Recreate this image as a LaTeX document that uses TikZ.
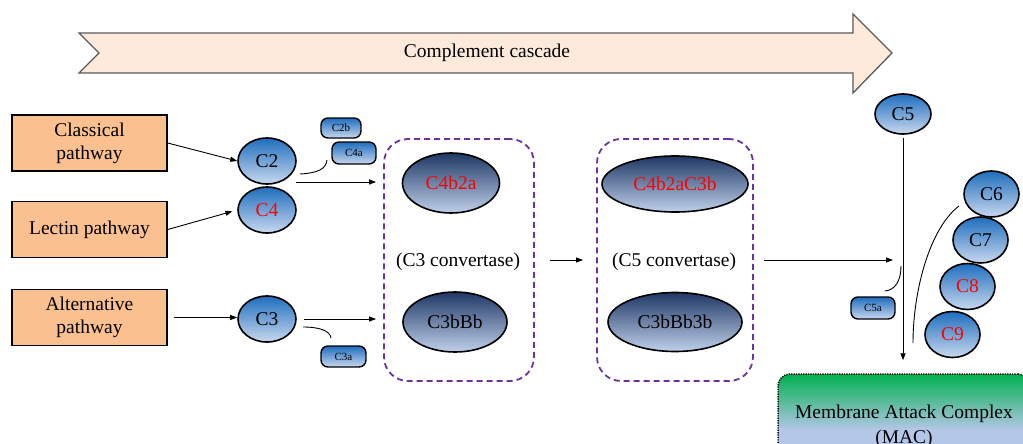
\documentclass[tikz,border=0pt]{standalone}
\usepackage{fontspec}
\setmainfont{Liberation Serif}
\newfontfamily\figserif{Liberation Serif}
\usetikzlibrary{arrows.meta,shapes.geometric}
\definecolor{peach}{HTML}{FDEADA}
\definecolor{peachline}{HTML}{595959}
\definecolor{boxorange}{HTML}{FAC090}
\definecolor{ctop}{HTML}{1F6EBE}
\definecolor{cbot}{HTML}{C8D8EE}
\definecolor{dtop}{HTML}{1F3864}
\definecolor{dbot}{HTML}{BFD0EA}
\definecolor{conv}{HTML}{7030A0}
\definecolor{macgreen}{HTML}{00B050}
\definecolor{macblue}{HTML}{B4C7E7}
\definecolor{redtxt}{HTML}{FF0000}
\begin{document}
\begin{tikzpicture}[x=1pt,y=-1pt,
  big/.style={font=\figserif\fontsize{19.5}{23}\selectfont},
  small/.style={font=\figserif\fontsize{11}{13}\selectfont},
  pathbox/.style={big,draw,line width=1.5pt,fill=boxorange,minimum width=155pt,
    minimum height=56pt,align=center,inner sep=0pt},
  comp/.style={big,ellipse,draw,line width=1.6pt,inner sep=0pt,
    top color=ctop,bottom color=cbot},
  dcomp/.style={big,ellipse,draw,line width=1.6pt,inner sep=0pt,
    top color=dtop,bottom color=dbot},
  chip/.style={small,draw,line width=1.4pt,rounded corners=7pt,inner sep=0pt,
    top color=ctop,bottom color=cbot},
  convbox/.style={draw=conv,line width=1.8pt,dash pattern=on 6pt off 4pt,
    rounded corners=24pt,inner sep=0pt},
  arr/.style={-{Triangle[length=7pt,width=5pt]},line width=0.9pt},
  thin/.style={line width=0.9pt}]
\useasboundingbox (0,0) rectangle (1023,444);
\clip (0,0) rectangle (1023,444);

% cascade banner
\draw[fill=peach,draw=peachline,line width=1.3pt,line join=miter]
  (79,33) -- (853,33) -- (853,14) -- (892,53) -- (853,93) -- (853,73)
  -- (79,73) -- (99,53) -- cycle;
\node[big] (cascade) at (487,53) {Complement cascade};

% activation pathways
\node[pathbox] (classical) at (89.5,143) {Classical\\pathway};
\node[pathbox] (lectin) at (89.5,229.5) {Lectin pathway};
\node[pathbox] (alt) at (89.5,317.5) {Alternative\\pathway};

% early components
\node[comp,minimum width=58pt,minimum height=46pt] (c2) at (267,161) {C2};
\node[comp,minimum width=58pt,minimum height=46pt,text=redtxt] (c4) at (267,210) {C4};
\node[comp,minimum width=58pt,minimum height=46pt] (c3) at (267,319) {C3};

\node[chip,minimum width=40pt,minimum height=20pt] (c2b) at (341,128) {C2b};
\node[chip,minimum width=44pt,minimum height=22pt] (c4a) at (354,153) {C4a};
\node[chip,minimum width=45pt,minimum height=21pt] (c3a) at (343.5,356.5) {C3a};

% convertases
\node[convbox,minimum width=150pt,minimum height=242pt] (box1) at (459,260) {};
\node[convbox,minimum width=156pt,minimum height=242pt] (box2) at (675,260) {};
\node[dcomp,minimum width=97pt,minimum height=60pt,text=redtxt] (c4b2a) at (451,183) {C4b2a};
\node[dcomp,minimum width=104pt,minimum height=60pt] (c3bbb) at (455,322) {C3bBb};
\node[dcomp,minimum width=146pt,minimum height=56pt,text=redtxt] (c4b2ac3b) at (675,184) {C4b2aC3b};
\node[dcomp,minimum width=134pt,minimum height=59pt] (c3bbb3b) at (675,322) {C3bBb3b};
\node[big] (lab3) at (458,262) {(C3 convertase)};
\node[big] (lab5) at (674,262) {(C5 convertase)};

% terminal components
\node[comp,minimum width=56pt,minimum height=40pt] (c5) at (903,114) {C5};
\node[chip,minimum width=44pt,minimum height=22pt] (c5a) at (873,308) {C5a};
\node[comp,minimum width=55pt,minimum height=46pt] (c6) at (991.5,194) {C6};
\node[comp,minimum width=55pt,minimum height=46pt] (c7) at (980.5,240) {C7};
\node[comp,minimum width=55pt,minimum height=46pt,text=redtxt] (c8) at (967.5,286.5) {C8};
\node[comp,minimum width=55pt,minimum height=46pt,text=redtxt] (c9) at (952.5,334.5) {C9};

% membrane attack complex (runs past the lower and right edges)
\node[draw,line width=1.5pt,dash pattern=on 1.2pt off 1.2pt,rounded corners=12pt,
  minimum width=252pt,minimum height=112pt,inner sep=0pt,
  top color=macgreen,bottom color=macblue,middle color=macblue] (mac) at (904,430) {};
\node[font=\figserif\fontsize{19.5}{25}\selectfont,align=center,anchor=base]
  (mactext) at (904,443) {Membrane Attack Complex\\(MAC)};

% connectors
\draw[arr] (classical.east) -- (c2.west);
\draw[arr,shorten >=5pt] (lectin.east) -- (c4.west);
\draw[arr,shorten <=6pt] (alt.east) -- (alt.east -| c3.west);

\coordinate (jn) at (296,182);
\draw[arr,shorten >=7pt] (jn) -- (jn -| box1.west);
\draw[arr,shorten <=7pt,shorten >=7pt] (c3.east) -- (c3.east -| box1.west);

\coordinate (c2cut) at (300,174);
\coordinate (c2end) at (327,160);
\draw[thin] (c2cut) .. controls (318,173) and (326,169) .. (c2end);
\coordinate (c3cut) at (303,327);
\coordinate (c3end) at (331,338);
\draw[thin] (c3cut) .. controls (320,327) and (330,331) .. (c3end);

\draw[arr,shorten <=15pt,shorten >=13pt] (box1.east) -- (box2.west);
\coordinate (meet) at (c5 |- box2.east);
\draw[arr,shorten <=10pt,shorten >=10pt] (box2.east) -- (meet);
\draw[arr,shorten <=3pt,shorten >=13pt] (c5.south) -- (c5 |- mac.north);

\coordinate (c5cut) at (901,266);
\coordinate (c5end) at (885,291);
\draw[thin] (c5cut) .. controls (901,281) and (895,290) .. (c5end);
\coordinate (latetop) at (959,206);
\coordinate (latebot) at (913,343);
\draw[thin] (latetop) .. controls (930,228) and (913,290) .. (latebot);
\end{tikzpicture}
\end{document}
